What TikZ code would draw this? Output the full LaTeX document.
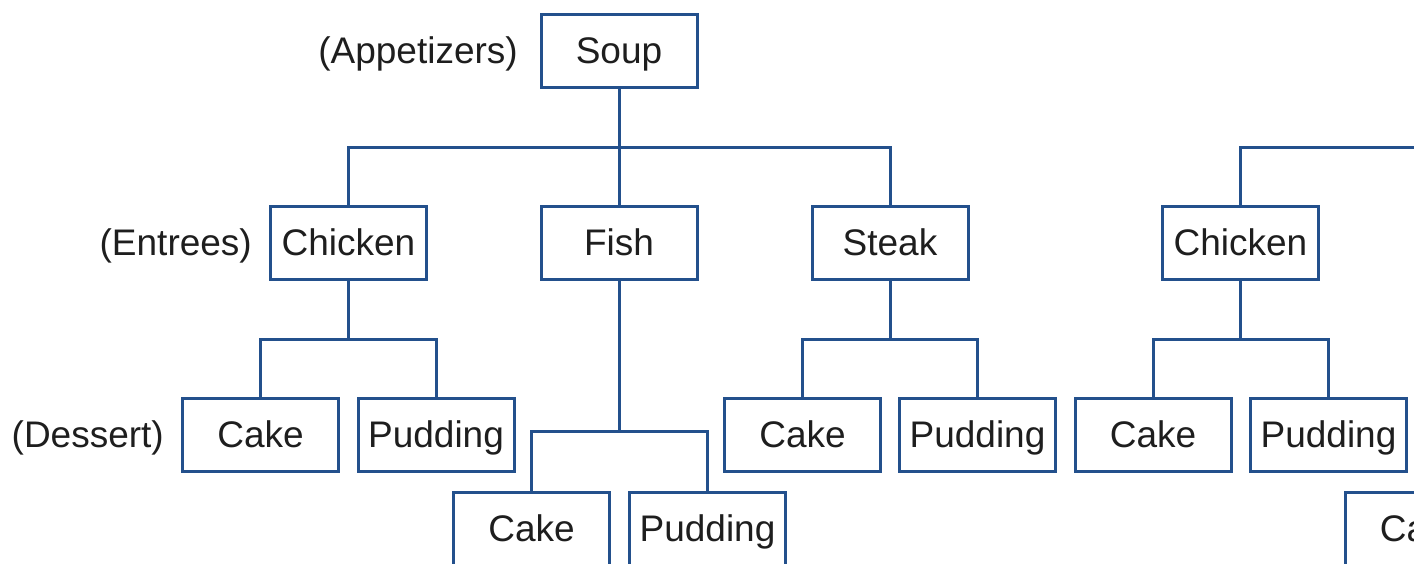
\documentclass[tikz,border=0pt]{standalone}
\usepackage{fontspec}
\setmainfont{Liberation Sans}
\definecolor{boxblue}{RGB}{35,80,140}
\definecolor{txt}{RGB}{30,30,30}
\begin{document}
\begin{tikzpicture}[x=1pt,y=-1pt,
  item/.style={draw=boxblue,line width=3pt,minimum width=156pt,minimum height=73pt,inner sep=0pt,
    text height=26.5pt,text depth=0pt,font=\fontsize{37}{44}\selectfont,text=txt},
  lab/.style={anchor=east,inner sep=0pt,text height=26.5pt,text depth=0pt,font=\fontsize{37}{44}\selectfont,text=txt},
  link/.style={draw=boxblue,line width=3pt}]
\useasboundingbox (0,0) rectangle (1414,563);
\clip (0,0) rectangle (1414,563);
% nodes
\node[item] (soup) at (619,50.5) {Soup};
\node[item] (chicken) at (348.5,242.5) {Chicken};
\node[item] (fish) at (619,242.5) {Fish};
\node[item] (steak) at (890,242.5) {Steak};
\node[item] (chicken2) at (1240.5,242.5) {Chicken};
\node[item] (cakeA) at (260.5,434.5) {Cake};
\node[item] (puddingA) at (436,434.5) {Pudding};
\node[item] (cakeB) at (802.5,434.5) {Cake};
\node[item] (puddingB) at (977.5,434.5) {Pudding};
\node[item] (cakeC) at (1153,434.5) {Cake};
\node[item] (puddingC) at (1328.5,434.5) {Pudding};
\node[item] (cakeF) at (531.5,528.5) {Cake};
\node[item] (puddingF) at (707.5,528.5) {Pudding};
\node[item] (cakeX) at (1423,528.5) {Cake};
% labels
\node[lab] (lapp) at (518,50.5) {(Appetizers)};
\node[lab] (lent) at (252,242.5) {(Entrees)};
\node[lab] (ldes) at (164,434.5) {(Dessert)};
% bar levels
\coordinate (b1) at (0,147);
\coordinate (b2) at (0,339);
\coordinate (b3) at (0,431);
\coordinate (offR) at (1800,147);
% connectors
\draw[link] (soup.south) -- (fish.north);
\draw[link] (chicken.north) -- (chicken.north |- b1) -| (steak.north);
\draw[link] (chicken2.north) -- (chicken2.north |- b1) -- (offR);
\draw[link] (chicken.south) -- (chicken.south |- b2);
\draw[link] (cakeA.north) -- (cakeA.north |- b2) -| (puddingA.north);
\draw[link] (steak.south) -- (steak.south |- b2);
\draw[link] (cakeB.north) -- (cakeB.north |- b2) -| (puddingB.north);
\draw[link] (chicken2.south) -- (chicken2.south |- b2);
\draw[link] (cakeC.north) -- (cakeC.north |- b2) -| (puddingC.north);
\draw[link] (fish.south) -- (fish.south |- b3);
\draw[link] (cakeF.north) -- (cakeF.north |- b3) -| (puddingF.north);
\end{tikzpicture}
\end{document}
